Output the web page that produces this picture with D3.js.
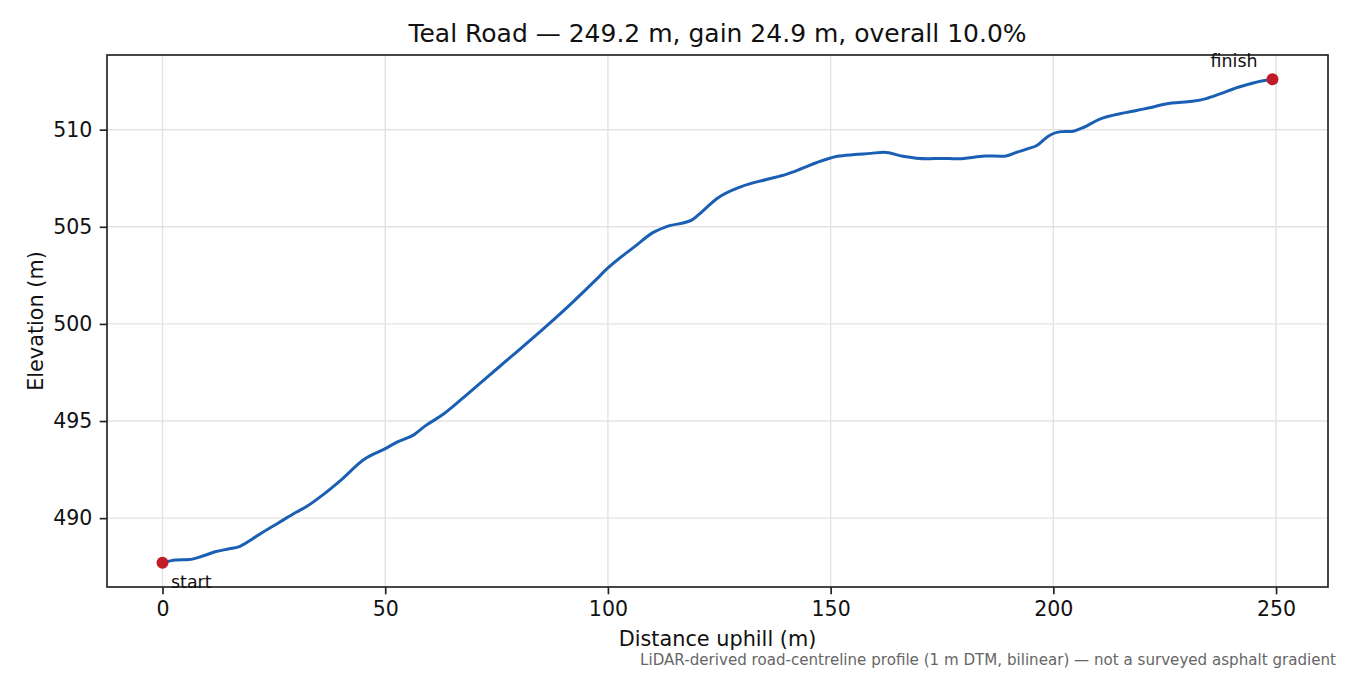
<!DOCTYPE html>
<html>
<head>
<meta charset="utf-8">
<script src="https://cdn.jsdelivr.net/npm/d3@7"></script>
<style>
    body { margin: 0; background: #fff; }
    svg { display: block; font-family: "DejaVu Sans", sans-serif; }
    .grid line { stroke: #e3e3e3; stroke-width: 1.4; }
    .axis path, .axis line { stroke: #222; stroke-width: 1.67; }
    .axis text { fill: #111; font-size: 20.5px; font-family: "DejaVu Sans", sans-serif; }
</style>
</head>
<body>
<svg id="chart"></svg>
<script>
'use strict';

// profile: distance uphill (m) and elevation (m)
const dist = [0, 3, 6, 9, 12, 15, 17.4, 20, 22, 26, 30, 32.5, 36, 40, 45.3, 49.8, 53, 56.5, 59,
    62.6, 67, 73.1, 78.2, 86.5, 92, 97, 100, 106, 110.1, 113, 118.8, 120.5, 124.5, 129.8,
    135.8, 140, 143, 146.9, 151.5, 155.4, 159, 162, 166.2, 171.7, 175, 178.2, 181.7, 184.8,
    188.7, 191.8, 194, 196.4, 198.7, 201.8, 204.1, 206.5, 210.3, 216.5, 220.4, 226.6, 231.2,
    234.3, 237.4, 241.3, 245.1, 249.2];
const elev = [487.7, 487.84, 487.87, 488.05, 488.28, 488.42, 488.55, 488.9, 489.2, 489.75, 490.3,
    490.62, 491.2, 491.95, 493.03, 493.55, 493.95, 494.3, 494.75, 495.28, 496.1, 497.3, 498.3,
    499.95, 501.1, 502.2, 502.88, 503.98, 504.7, 505.0, 505.34, 505.65, 506.46, 507.06,
    507.45, 507.7, 507.95, 508.31, 508.63, 508.72, 508.78, 508.84, 508.63, 508.5, 508.52, 508.5,
    508.57, 508.65, 508.63, 508.84, 509.0, 509.2, 509.64, 509.9, 509.91, 510.09, 510.53, 510.89,
    511.07, 511.37, 511.46, 511.6, 511.84, 512.17, 512.42, 512.6];

const x_ticks = [0, 50, 100, 150, 200, 250];
const y_ticks = [490, 495, 500, 505, 510];
const end_labels = ['start', 'finish'];

const title = 'Teal Road \u2014 249.2 m, gain 24.9 m, overall 10.0%';
const x_label = 'Distance uphill (m)';
const y_label = 'Elevation (m)';
const note = 'LiDAR-derived road-centreline profile (1 m DTM, bilinear) \u2014 not a surveyed asphalt gradient';

const width = 1350, height = 675;
const plot_l = 107, plot_r = 1328, plot_t = 55, plot_b = 587;

const svg = d3.select('#chart').attr('width', width).attr('height', height);

// matplotlib style 5% margins
const x_ext = d3.extent(dist), y_ext = d3.extent(elev);
const x_pad = (x_ext[1] - x_ext[0]) * 0.05, y_pad = (y_ext[1] - y_ext[0]) * 0.05;
const x = d3.scaleLinear().domain([x_ext[0] - x_pad, x_ext[1] + x_pad]).range([plot_l, plot_r]);
const y = d3.scaleLinear().domain([y_ext[0] - y_pad, y_ext[1] + y_pad]).range([plot_b, plot_t]);

// grid
const grid = svg.append('g').attr('class', 'grid');
grid.selectAll('.gx').data(x_ticks).enter().append('line')
    .attr('x1', d => x(d)).attr('x2', d => x(d))
    .attr('y1', plot_t).attr('y2', plot_b);
grid.selectAll('.gy').data(y_ticks).enter().append('line')
    .attr('x1', plot_l).attr('x2', plot_r)
    .attr('y1', d => y(d)).attr('y2', d => y(d));

// profile line
const pts = dist.map((d, i) => [d, elev[i]]);
svg.append('path')
    .datum(pts)
    .attr('fill', 'none')
    .attr('stroke', '#1a5fb4')
    .attr('stroke-width', 3)
    .attr('stroke-linejoin', 'round')
    .attr('d', d3.line().x(d => x(d[0])).y(d => y(d[1])).curve(d3.curveMonotoneX));

// start / finish dots
const ends = [pts[0], pts[pts.length - 1]];
svg.selectAll('.end-dot').data(ends).enter().append('circle')
    .attr('cx', d => x(d[0])).attr('cy', d => y(d[1]))
    .attr('r', 6).attr('fill', '#c01c28');

// axes
const x_axis = d3.axisBottom(x).tickValues(x_ticks).tickFormat(d3.format('d'))
    .tickSize(7.3).tickPadding(7.3).tickSizeOuter(0);
svg.append('g').attr('class', 'axis')
    .attr('transform', 'translate(0,' + plot_b + ')')
    .call(x_axis)
    .call(g => g.select('.domain').remove());

const y_axis = d3.axisLeft(y).tickValues(y_ticks).tickFormat(d3.format('d'))
    .tickSize(7.3).tickPadding(7.3).tickSizeOuter(0);
svg.append('g').attr('class', 'axis')
    .attr('transform', 'translate(' + plot_l + ',0)')
    .call(y_axis)
    .call(g => g.select('.domain').remove());

// frame
svg.append('rect')
    .attr('x', plot_l).attr('y', plot_t)
    .attr('width', plot_r - plot_l).attr('height', plot_b - plot_t)
    .attr('fill', 'none').attr('stroke', '#222').attr('stroke-width', 1.67);

// annotations
svg.append('text')
    .attr('x', x(ends[0][0]) + 8.5).attr('y', y(ends[0][1]) + 25)
    .attr('font-size', 17.4).attr('fill', '#111')
    .text(end_labels[0]);
svg.append('text')
    .attr('x', x(ends[1][0]) - 15).attr('y', y(ends[1][1]) - 12)
    .attr('text-anchor', 'end')
    .attr('font-size', 17.4).attr('fill', '#111')
    .text(end_labels[1]);

// titles
svg.append('text')
    .attr('x', (plot_l + plot_r) / 2).attr('y', 42)
    .attr('text-anchor', 'middle')
    .attr('font-size', 25).attr('fill', '#111')
    .text(title);
svg.append('text')
    .attr('x', (plot_l + plot_r) / 2).attr('y', 646)
    .attr('text-anchor', 'middle')
    .attr('font-size', 20.8).attr('fill', '#111')
    .text(x_label);
svg.append('text')
    .attr('transform', 'translate(43,' + (plot_t + plot_b) / 2 + ') rotate(-90)')
    .attr('text-anchor', 'middle')
    .attr('font-size', 20.8).attr('fill', '#111')
    .text(y_label);
svg.append('text')
    .attr('x', 1336).attr('y', 665)
    .attr('text-anchor', 'end')
    .attr('font-size', 15.1).attr('fill', '#666')
    .text(note);
</script>
</body>
</html>
